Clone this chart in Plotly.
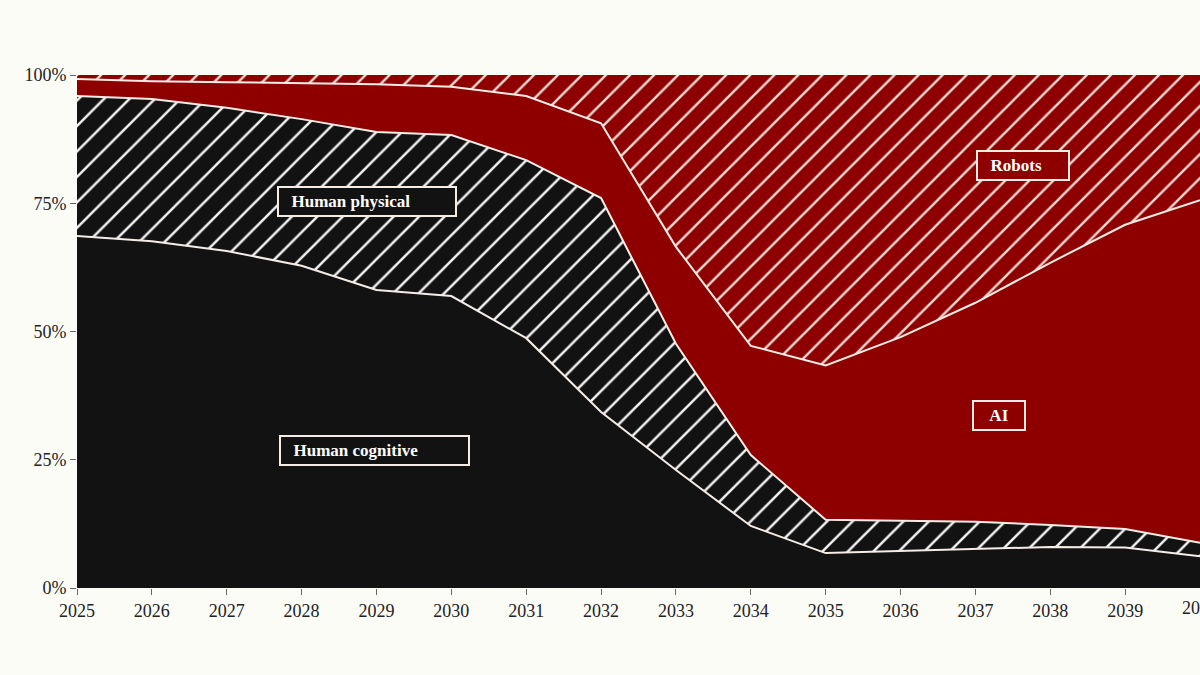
import plotly.graph_objects as go

years = list(range(2025, 2041))

# shares in percent (stacked bottom -> top)
human_cognitive = [68.6, 67.6, 65.7, 62.8, 58.1, 56.9, 48.7, 34.3, 23.0, 12.1, 6.8, 7.2, 7.6, 8.0, 7.9, 6.2]
human_physical = [27.3, 27.7, 27.9, 28.6, 30.8, 31.4, 34.7, 41.7, 24.6, 13.8, 6.5, 5.9, 5.3, 4.3, 3.6, 2.6]
ai = [3.3, 3.5, 5.0, 7.0, 9.3, 9.4, 12.5, 14.6, 18.9, 21.3, 30.1, 35.8, 42.7, 51.1, 59.3, 66.8]
robots = [0.8, 1.2, 1.4, 1.6, 1.8, 2.3, 4.1, 9.4, 33.5, 52.8, 56.6, 51.1, 44.4, 36.6, 29.2, 24.4]

series_names = ["Human cognitive", "Human physical", "AI", "Robots"]
y_ticks = [0, 0.25, 0.5, 0.75, 1.0]
y_tick_labels = ["0%", "25%", "50%", "75%", "100%"]

BLACK = "#121212"
RED = "#8E0000"
LINE = "#F6ECE6"
BG = "#FCFCF7"
SERIF = "Liberation Serif, DejaVu Serif, serif"

fig = go.Figure()

def frac(v):
    return [x / 100 for x in v]

fig.add_trace(go.Scatter(
    x=years, y=frac(human_cognitive), name=series_names[0], stackgroup="one",
    mode="lines", line=dict(color=LINE, width=2), fillcolor=BLACK,
    hoverinfo="skip"))
fig.add_trace(go.Scatter(
    x=years, y=frac(human_physical), name=series_names[1], stackgroup="one",
    mode="lines", line=dict(color=LINE, width=2), fillcolor=BLACK,
    fillpattern=dict(shape="/", bgcolor=BLACK, fgcolor="#F2F2F2", size=18,
                     solidity=0.14, fillmode="replace"),
    hoverinfo="skip"))
fig.add_trace(go.Scatter(
    x=years, y=frac(ai), name=series_names[2], stackgroup="one",
    mode="lines", line=dict(color=LINE, width=2), fillcolor=RED,
    hoverinfo="skip"))
fig.add_trace(go.Scatter(
    x=years, y=frac(robots), name=series_names[3], stackgroup="one",
    mode="lines", line=dict(color=LINE, width=0), fillcolor=RED,
    fillpattern=dict(shape="/", bgcolor=RED, fgcolor="#F6DCD6", size=17,
                     solidity=0.14, fillmode="replace"),
    hoverinfo="skip"))

labels = [
    ("Human physical", 2028.87, 0.754, BLACK, 168),
    ("Human cognitive", 2028.98, 0.269, BLACK, 179),
    ("Robots", 2037.64, 0.823, RED, 82),
    ("AI", 2037.32, 0.337, RED, 42),
]
for text, x, y, bg, w in labels:
    fig.add_annotation(
        x=x, y=y, xref="x", yref="y", text="\u2002" + text if text != "AI" else text,
        showarrow=False, align="left" if text != "AI" else "center", width=w,
        font=dict(family=SERIF, size=17, color="#FFFFFF", weight="bold"),
        bgcolor=bg, bordercolor=LINE, borderwidth=2, borderpad=4,
    )

# last year label sits on the right edge of the figure (partly cut off)
fig.add_annotation(
    x=years[-1], y=0, xref="x", yref="paper", text=str(years[-1]),
    showarrow=False, yanchor="top", yshift=-8,
    font=dict(family=SERIF, size=18, color="#222222"),
)

fig.update_layout(
    width=1200, height=675,
    margin=dict(l=77, r=0, t=75, b=87),
    paper_bgcolor=BG, plot_bgcolor=BG,
    showlegend=False,
    font=dict(family=SERIF, size=18, color="#222222"),
)
fig.update_xaxes(
    range=[2025, 2040], tickmode="array", tickvals=years,
    ticktext=[str(y) for y in years],
    showgrid=False, zeroline=False, showline=False,
    ticks="outside", ticklen=6, tickcolor="#666666", tickwidth=1,
    tickfont=dict(family=SERIF, size=18, color="#222222"),
)
fig.update_yaxes(
    range=[0, 1], tickmode="array", tickvals=y_ticks, ticktext=y_tick_labels,
    showgrid=False, zeroline=False, showline=False,
    ticks="outside", ticklen=6, tickcolor="#666666", tickwidth=1,
    tickfont=dict(family=SERIF, size=18, color="#222222"),
)

fig.write_html("out.html")
